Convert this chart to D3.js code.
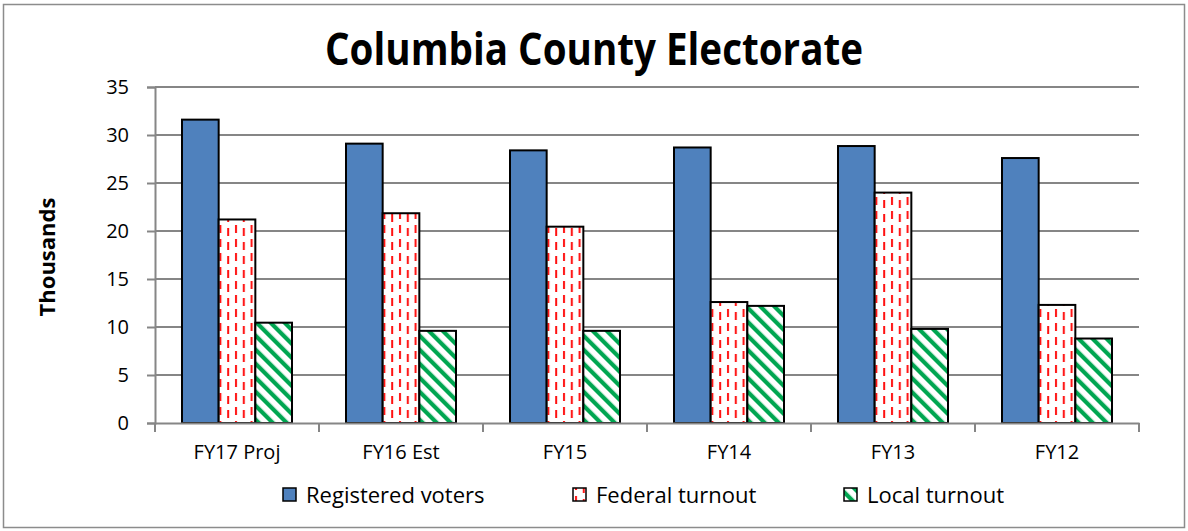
<!DOCTYPE html>
<html>
<head>
<meta charset="utf-8">
<script src="https://cdn.jsdelivr.net/npm/d3@7"></script>
<style>
  html, body { margin: 0; padding: 0; background: #fff; }
  svg { display: block; }
  text { font-family: "Open Sans", "Noto Sans", sans-serif; fill: #000; }
</style>
</head>
<body>
<script>
// Chart data (thousands of people)
const categories = ["FY17 Proj", "FY16 Est", "FY15", "FY14", "FY13", "FY12"];
const seriesNames = ["Registered voters", "Federal turnout", "Local turnout"];
const registeredVoters = [31.6, 29.1, 28.4, 28.7, 28.85, 27.6];
const federalTurnout   = [21.2, 21.85, 20.45, 12.6, 24.0, 12.3];
const localTurnout     = [10.45, 9.6, 9.6, 12.2, 9.8, 8.8];
const yTicks = [0, 5, 10, 15, 20, 25, 30, 35];

const seriesValues = [registeredVoters, federalTurnout, localTurnout];
const fills = ["#4F81BD", "url(#patFederal)", "url(#patLocal)"];

const W = 1188, H = 531;
const plot = { left: 155, right: 1139, top: 87, bottom: 423 };

const svg = d3.select("body").append("svg")
  .attr("width", W).attr("height", H);

// Fill patterns
const defs = svg.append("defs");
const pf = defs.append("pattern").attr("id", "patFederal")
  .attr("patternUnits", "userSpaceOnUse")
  .attr("width", 15.6).attr("height", 14);
pf.append("rect").attr("width", 15.6).attr("height", 14).attr("fill", "#fff");
pf.append("rect").attr("x", 2).attr("y", 1).attr("width", 2).attr("height", 8).attr("fill", "#FF1010");
pf.append("rect").attr("x", 9.8).attr("y", 4).attr("width", 2).attr("height", 8).attr("fill", "#FF1010");

const pl = defs.append("pattern").attr("id", "patLocal")
  .attr("patternUnits", "userSpaceOnUse")
  .attr("width", 9.9).attr("height", 9.9)
  .attr("patternTransform", "rotate(-45)");
pl.append("rect").attr("width", 9.9).attr("height", 9.9).attr("fill", "#fff");
pl.append("rect").attr("x", 0).attr("y", 0).attr("width", 4.2).attr("height", 9.9).attr("fill", "#00A651");

// Background and outer border
svg.append("rect").attr("width", W).attr("height", H).attr("fill", "#fff");
svg.append("rect")
  .attr("x", 3.5).attr("y", 4.5).attr("width", W - 7).attr("height", H - 8)
  .attr("fill", "none").attr("stroke", "#8C8C8C").attr("stroke-width", 1.5);

// Scales
const x0 = d3.scaleBand().domain(categories).range([plot.left, plot.right]).paddingInner(0).paddingOuter(0);
const x1 = d3.scaleBand().domain(seriesNames).range([27, 137]).padding(0);
const y = d3.scaleLinear().domain([0, 35]).range([plot.bottom, plot.top]);

const gridColor = "#868686";

// Horizontal gridlines
svg.append("g").selectAll("line")
  .data(yTicks.filter(t => t > 0))
  .join("line")
  .attr("x1", plot.left).attr("x2", plot.right)
  .attr("y1", d => y(d)).attr("y2", d => y(d))
  .attr("stroke", gridColor).attr("stroke-width", 2);

// Y axis
const yAxis = svg.append("g")
  .attr("transform", `translate(${plot.left},0)`)
  .call(d3.axisLeft(y).tickValues(yTicks).tickSize(8).tickPadding(18));
yAxis.select(".domain").attr("stroke", gridColor).attr("stroke-width", 2);
yAxis.selectAll(".tick line").attr("stroke", gridColor).attr("stroke-width", 2);
yAxis.selectAll(".tick text")
  .style("font-family", '"Open Sans", "Noto Sans", sans-serif')
  .attr("font-size", 20).attr("fill", "#000");

// Y axis title
svg.append("text")
  .attr("transform", "translate(55,257) rotate(-90)")
  .attr("text-anchor", "middle")
  .attr("font-size", 22).attr("font-weight", "bold")
  .text("Thousands");

// Bars
const groups = svg.append("g").selectAll("g")
  .data(categories)
  .join("g")
  .attr("transform", d => `translate(${x0(d)},0)`);

groups.selectAll("rect")
  .data((c, i) => seriesNames.map((s, k) => ({ s, k, v: seriesValues[k][i] })))
  .join("rect")
  .attr("x", d => x1(d.s))
  .attr("width", x1.bandwidth())
  .attr("y", d => y(d.v))
  .attr("height", d => y(0) - y(d.v))
  .attr("fill", d => fills[d.k])
  .attr("stroke", "#000").attr("stroke-width", 2);

// X axis
const xAxis = svg.append("g")
  .attr("transform", `translate(0,${plot.bottom})`)
  .call(d3.axisBottom(x0).tickSize(0).tickPadding(22));
xAxis.select(".domain").attr("stroke", gridColor).attr("stroke-width", 2);
xAxis.selectAll(".tick text")
  .style("font-family", '"Open Sans", "Noto Sans", sans-serif')
  .attr("font-size", 20).attr("fill", "#000");

// Category boundary ticks
const boundaries = categories.map(c => x0(c)).concat([plot.right]);
svg.append("g").selectAll("line")
  .data(boundaries)
  .join("line")
  .attr("x1", d => d).attr("x2", d => d)
  .attr("y1", plot.bottom).attr("y2", plot.bottom + 9)
  .attr("stroke", gridColor).attr("stroke-width", 2);

// Title (slightly condensed bold face: fit width, stretch height)
const title = svg.append("text")
  .attr("text-anchor", "middle")
  .attr("transform", "translate(594,65) scale(1,1.15)")
  .attr("font-size", 36).attr("font-weight", "bold")
  .text("Columbia County Electorate");
const tw = title.node().getComputedTextLength();
if (tw > 0) title.attr("font-size", 36 * 538 / tw);

// Legend
const legendX = [283, 573, 844];
const legend = svg.append("g").selectAll("g")
  .data(seriesNames)
  .join("g")
  .attr("transform", (d, i) => `translate(${legendX[i]},495)`);
legend.append("rect")
  .attr("x", 0).attr("y", -7).attr("width", 13).attr("height", 13)
  .attr("fill", (d, i) => fills[i])
  .attr("stroke", "#000").attr("stroke-width", 1.5);
legend.append("text")
  .attr("x", 23).attr("y", 8)
  .attr("font-size", 22)
  .text(d => d);
</script>
</body>
</html>
